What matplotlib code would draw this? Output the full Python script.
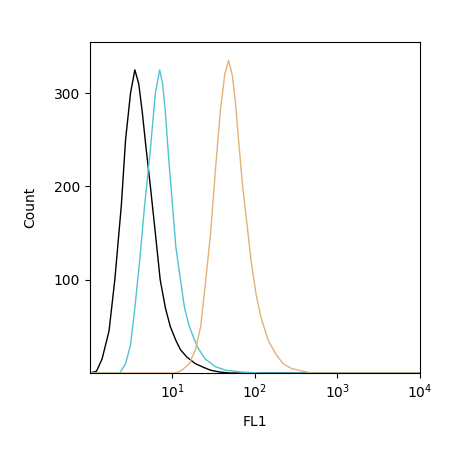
import numpy as np
import matplotlib.pyplot as plt

# histogram traces (FL1 value, count)
black_x = [1, 1.2, 1.4, 1.7, 2.0, 2.4, 2.7, 3.1, 3.5, 3.9, 4.3, 4.8, 5.4, 6.2, 7.1, 8.2, 9.4, 11, 12.5, 15, 19, 24, 29, 38, 50, 10000]
black_y = [0, 2, 15, 45, 100, 180, 250, 300, 325, 310, 280, 240, 200, 150, 100, 70, 50, 35, 25, 17, 10, 6, 3, 1, 0, 0]

cyan_x = [1, 2.3, 2.7, 3.1, 3.5, 4.0, 4.6, 5.4, 6.2, 7.0, 7.6, 8.2, 9.0, 10, 11, 12.5, 14, 16, 20, 25, 33, 44, 70, 118, 10000]
cyan_y = [0, 0, 10, 30, 70, 120, 180, 240, 300, 325, 310, 280, 230, 180, 135, 100, 70, 50, 28, 15, 7, 3, 1, 0, 0]

orange_x = [1, 10.8, 13, 16, 19, 22, 25, 29, 33, 38, 43, 48, 53, 58, 64, 71, 80, 90, 103, 118, 145, 180, 220, 275, 380, 500, 10000]
orange_y = [0, 0, 3, 10, 25, 50, 95, 150, 215, 280, 320, 335, 320, 290, 245, 200, 160, 120, 85, 60, 35, 20, 10, 5, 2, 0, 0]

fig = plt.figure(figsize=(4.5, 4.5), dpi=100)
ax = fig.add_axes([0.2, 0.171, 0.733, 0.736])

ax.plot(black_x, black_y, color='black', lw=1)
ax.plot(cyan_x, cyan_y, color='#4fc3d6', lw=1)
ax.plot(orange_x, orange_y, color='#e3b27a', lw=1)

ax.set_xscale('log')
ax.set_xlim(1, 1e4)
ax.set_ylim(0, 355)
ax.set_xticks([10, 100, 1000, 10000])
ax.xaxis.set_minor_locator(plt.NullLocator())
ax.set_yticks([100, 200, 300])
ax.tick_params(direction='out', labelsize=10)
ax.set_xlabel('FL1', fontsize=10, labelpad=10)
ax.set_ylabel('Count', fontsize=10, labelpad=12)

fig.savefig('out.png', dpi=100)
